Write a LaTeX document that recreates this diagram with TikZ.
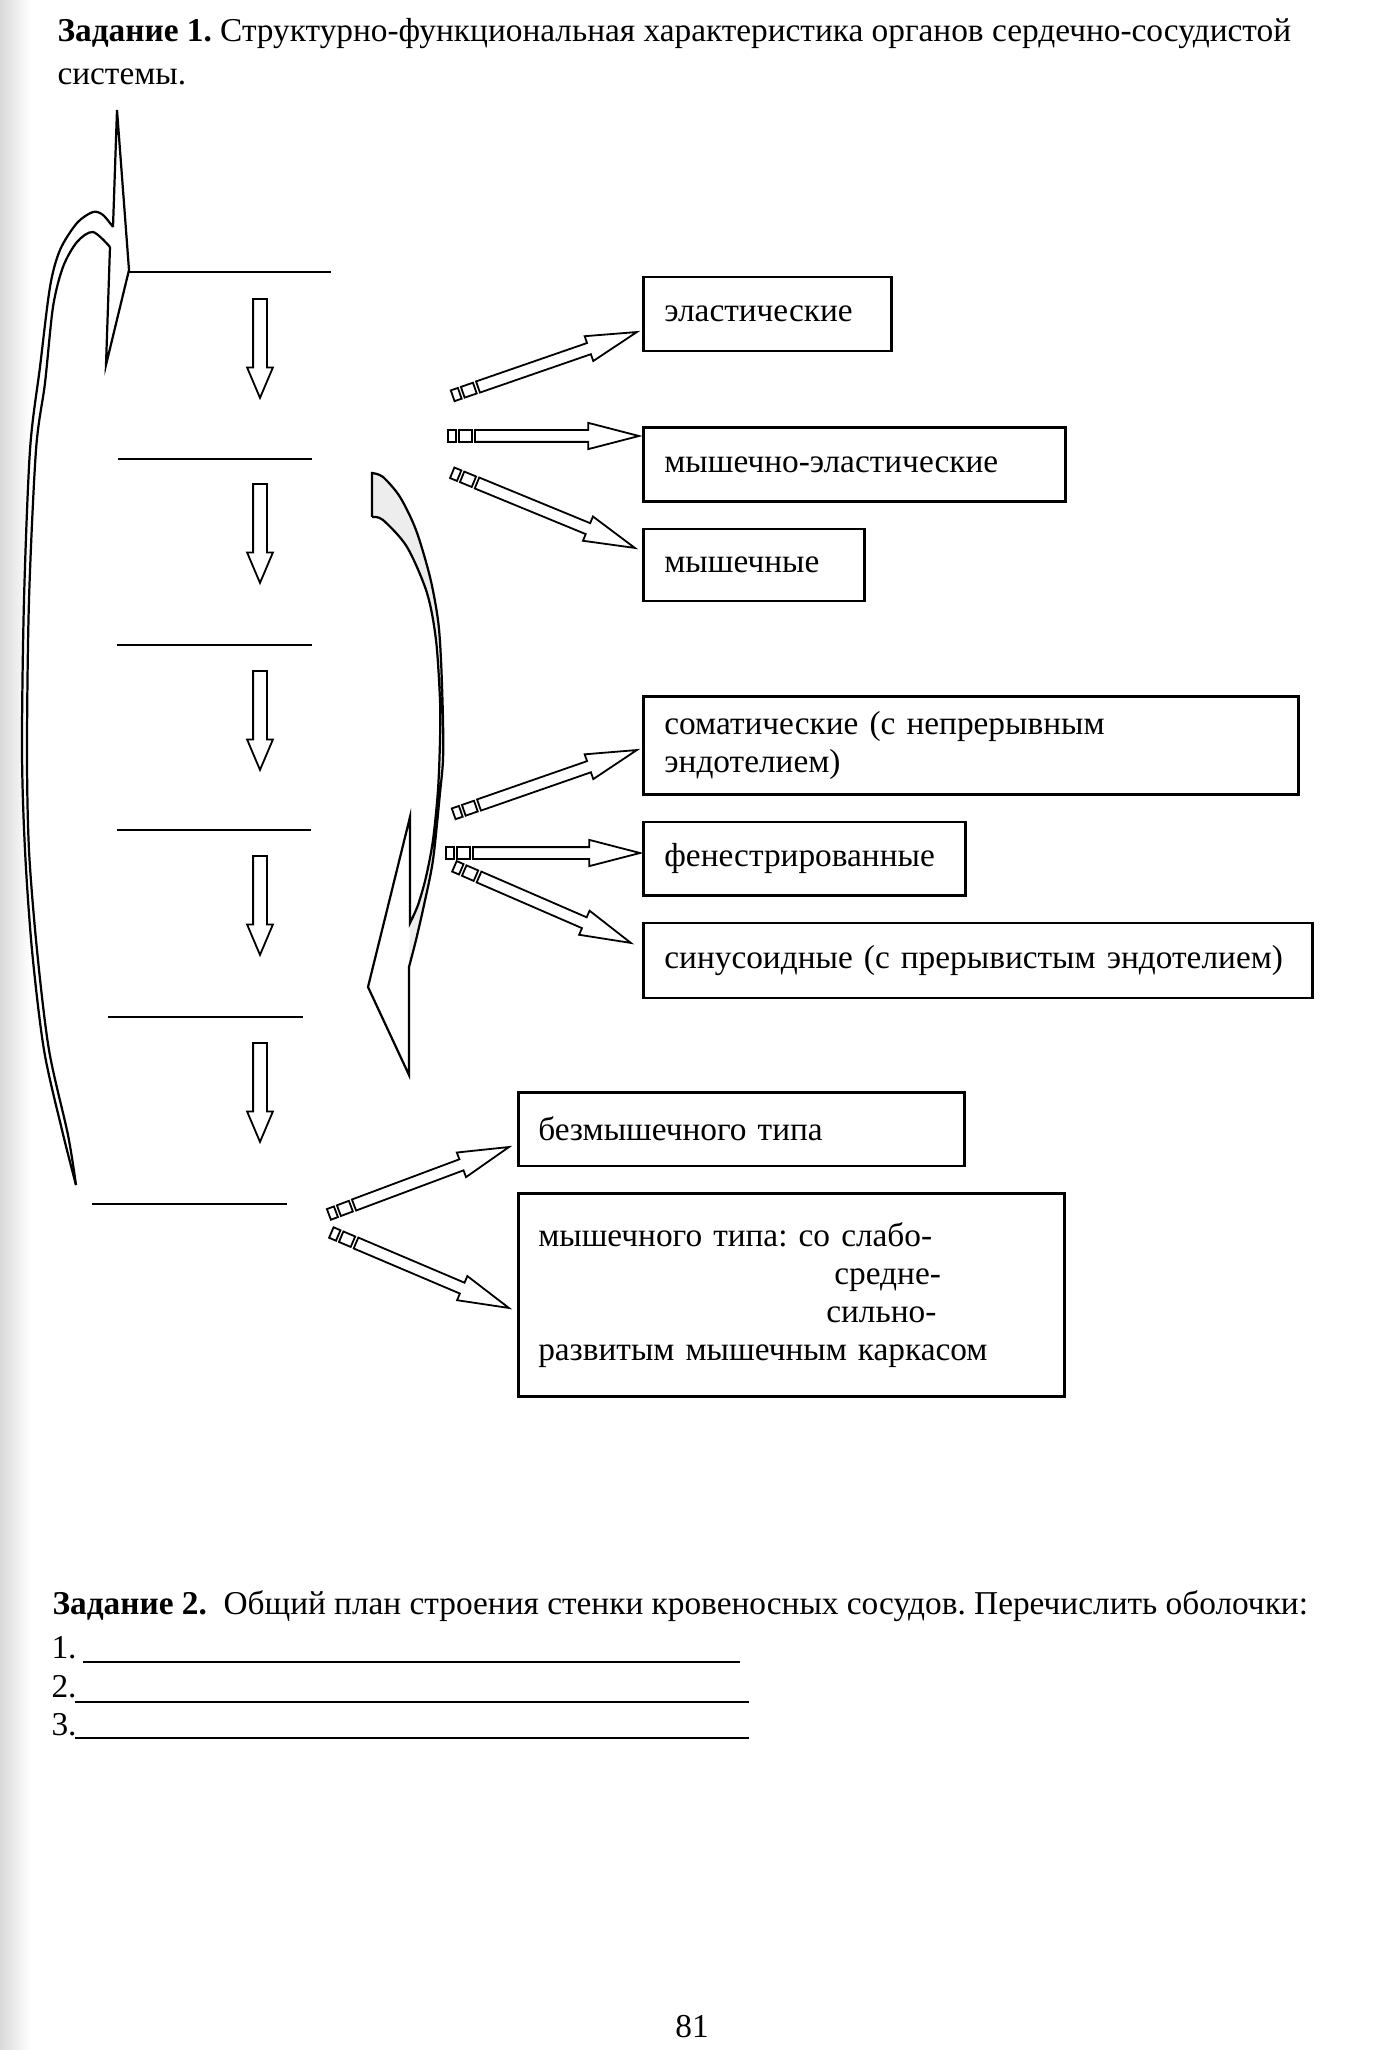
\documentclass[tikz,border=0pt]{standalone}
\usepackage{fontspec}
\setmainfont{Liberation Serif}
\frenchspacing
\usetikzlibrary{calc,positioning,shapes.arrows}
\tikzset{
	box/.style={
		draw, rectangle, line width=0.9pt,
		inner xsep=7.6pt, inner ysep=0pt, align=left,
		anchor=north west, font=\fontsize{12}{13.6}\selectfont
	},
	blockarrow/.style={
		single arrow, draw, fill=white, line width=0.65pt,
		inner xsep=0pt, inner ysep=1.8pt, outer sep=0pt,
		single arrow head extend=2.6pt, minimum width=8.8pt,
		single arrow tip angle=29
	},
	downarrow/.style={
		single arrow, draw, fill=white, line width=0.65pt,
		inner xsep=0pt, inner ysep=2.16pt, outer sep=0pt,
		single arrow head extend=2.16pt, minimum width=8.6pt,
		minimum height=35.6pt, single arrow tip angle=46,
		rotate=-90, anchor=tail
	},
	tailsq/.style={draw, rectangle, fill=white, line width=0.65pt, inner sep=0pt, minimum height=4.1pt},
	blank/.style={line width=1pt},
	bigcurve/.style={line width=0.8pt, line join=miter}
}
\newcommand{\brokenarrow}[2]{%
	\path let \p1=($(#2)-(#1)$), \n1={atan2(\y1,\x1)}, \n2={veclen(\x1,\y1)} in
		node[blockarrow, minimum height=\n2, rotate=\n1, anchor=tail] at (#1) {}
		node[tailsq, minimum width=4.6pt, rotate=\n1] at ($(#1)!-3.5pt!(#2)$) {}
		node[tailsq, minimum width=2.7pt, rotate=\n1] at ($(#1)!-8.3pt!(#2)$) {};%
}

\begin{document}
\begin{tikzpicture}[x=0.36pt, y=-0.36pt]
				\useasboundingbox (0,0) rectangle (1373,2050);
				\fill[white] (0,0) rectangle (1373,2050);
				\shade[left color=black!15, right color=white] (0,0) rectangle (30,2050);
				\node[anchor=north west, inner sep=0pt, align=left, font=\fontsize{12}{15.5}\selectfont] (task1) at (57,18)
					{\textbf{Задание 1.} Структурно-функциональная характеристика органов сердечно-сосудистой\\системы.};
				\node[box, text width=74.2pt, minimum height=26.6pt] (elastic) at (642,276) {эластические};
				\node[box, text width=136.8pt, minimum height=26.6pt, below=26.6pt of elastic.south west, anchor=north west] (muselastic) {мышечно-эластические};
				\node[box, text width=64.4pt, minimum height=25.9pt, below=9pt of muselastic.south west, anchor=north west] (muscular) {мышечные};
				\node[box, text width=220.7pt, minimum height=35.3pt] (somatic) at (642,695) {соматические (с непрерывным\\эндотелием)};
				\node[box, text width=100.8pt, minimum height=26.6pt, below=9pt of somatic.south west, anchor=north west] (fenestr) {фенестрированные};
				\node[box, text width=225.7pt, minimum height=27pt, below=9pt of fenestr.south west, anchor=north west] (sinus) {синусоидные (с прерывистым эндотелием)};
				\node[box, inner xsep=7.2pt, text width=146.2pt, minimum height=26.6pt] (nonmusc) at (517,1091) {безмышечного типа};
				\node[box, inner xsep=7.2pt, text width=182.2pt, minimum height=73.1pt, below=9pt of nonmusc.south west, anchor=north west] (musc)
					{мышечного типа: со слабо-\\\hspace*{106.6pt}средне-\\\hspace*{103.7pt}сильно-\\развитым мышечным каркасом};
				\coordinate (t1) at (478,387); \coordinate (h1) at (637,332);
				\coordinate (t2) at (475,436); \coordinate (h2) at (639,436);
				\coordinate (t3) at (477,483); \coordinate (h3) at (635,548);
				\coordinate (t4) at (479,805); \coordinate (h4) at (637,750);
				\coordinate (t5) at (473,853); \coordinate (h5) at (640,853);
				\coordinate (t6) at (479,877); \coordinate (h6) at (631,943);
				\coordinate (t7) at (354,1205); \coordinate (h7) at (509,1147);
				\coordinate (t8) at (356,1243); \coordinate (h8) at (509,1308);
				\brokenarrow{t1}{h1}
				\brokenarrow{t2}{h2}
				\brokenarrow{t3}{h3}
				\brokenarrow{t4}{h4}
				\brokenarrow{t5}{h5}
				\brokenarrow{t6}{h6}
				\brokenarrow{t7}{h7}
				\brokenarrow{t8}{h8}
				\draw[blank] (129,272) -- (331,272);
				\draw[blank] (118,459) -- (312,459);
				\draw[blank] (117,645) -- (312,645);
				\draw[blank] (117,830) -- (311,830);
				\draw[blank] (108,1017) -- (303,1017);
				\draw[blank] (92,1204) -- (287,1204);
				\node[downarrow] (down1) at (260,299) {};
				\node[downarrow] (down2) at (260,484) {};
				\node[downarrow] (down3) at (260,671) {};
				\node[downarrow] (down4) at (260,856) {};
				\node[downarrow] (down5) at (260,1043) {};
				\draw[bigcurve] (113,227) -- (117,110) -- (129,270) -- (106,365) -- (110,247);
				\draw[bigcurve] plot[smooth] coordinates {(113,227) (103,215) (93,212) (77,223) (60,250) (50,287) (40,367) (30,450) (24,600) (22,750) (25,850) (32,950) (44,1050) (62,1130) (76,1185)};
				\draw[bigcurve] plot[smooth] coordinates {(110,247) (93,232) (77,242) (63,267) (53,307) (45,383) (36,450) (29,600) (27,750) (29,850) (37,950) (49,1050) (68,1135) (76,1185)};
				\fill[black!7] plot[smooth] coordinates {(372,473) (383,477) (400,497) (416,530) (430,577) (438,620) (441,660) (443,720) (443,760) (440,793) (433,860) (424,905) (416,940) (409,967)}
					-- plot[smooth] coordinates {(410,923) (418,905) (426,877) (433,840) (438,790) (440,740) (440,700) (436,640) (427,593) (407,547) (383,520) (372,517)} -- cycle;
				\draw[bigcurve] (372,517) -- plot[smooth] coordinates {(372,473) (383,477) (400,497) (416,530) (430,577) (438,620) (441,660) (443,720) (443,760) (440,793) (433,860) (424,905) (416,940) (409,967)}
					-- (409,1075) -- (368,987) -- (410,817) -- (410,923)
					-- plot[smooth] coordinates {(410,923) (418,905) (426,877) (433,840) (438,790) (440,740) (440,700) (436,640) (427,593) (407,547) (383,520) (372,517)};
				\node[anchor=west, inner sep=0pt, font=\fontsize{12}{14}\selectfont] (task2) at (52,1606) {\textbf{Задание 2.}\ \ Общий план строения стенки кровеносных сосудов. Перечислить оболочки:};
				\node[anchor=west, inner sep=0pt, font=\fontsize{12}{14}\selectfont] (item1) at (51,1648) {1.};
				\node[anchor=west, inner sep=0pt, font=\fontsize{12}{14}\selectfont] (item2) at (51,1687) {2.};
				\node[anchor=west, inner sep=0pt, font=\fontsize{12}{14}\selectfont] (item3) at (51,1725) {3.};
				\draw[blank] (83,1662) -- (740,1662);
				\draw[blank] (75,1702) -- (749,1702);
				\draw[blank] (75,1738) -- (749,1738);
				\node[font=\fontsize{12}{14}\selectfont] (pagenum) at (692,2027) {81};
			\end{tikzpicture}
\end{document}
